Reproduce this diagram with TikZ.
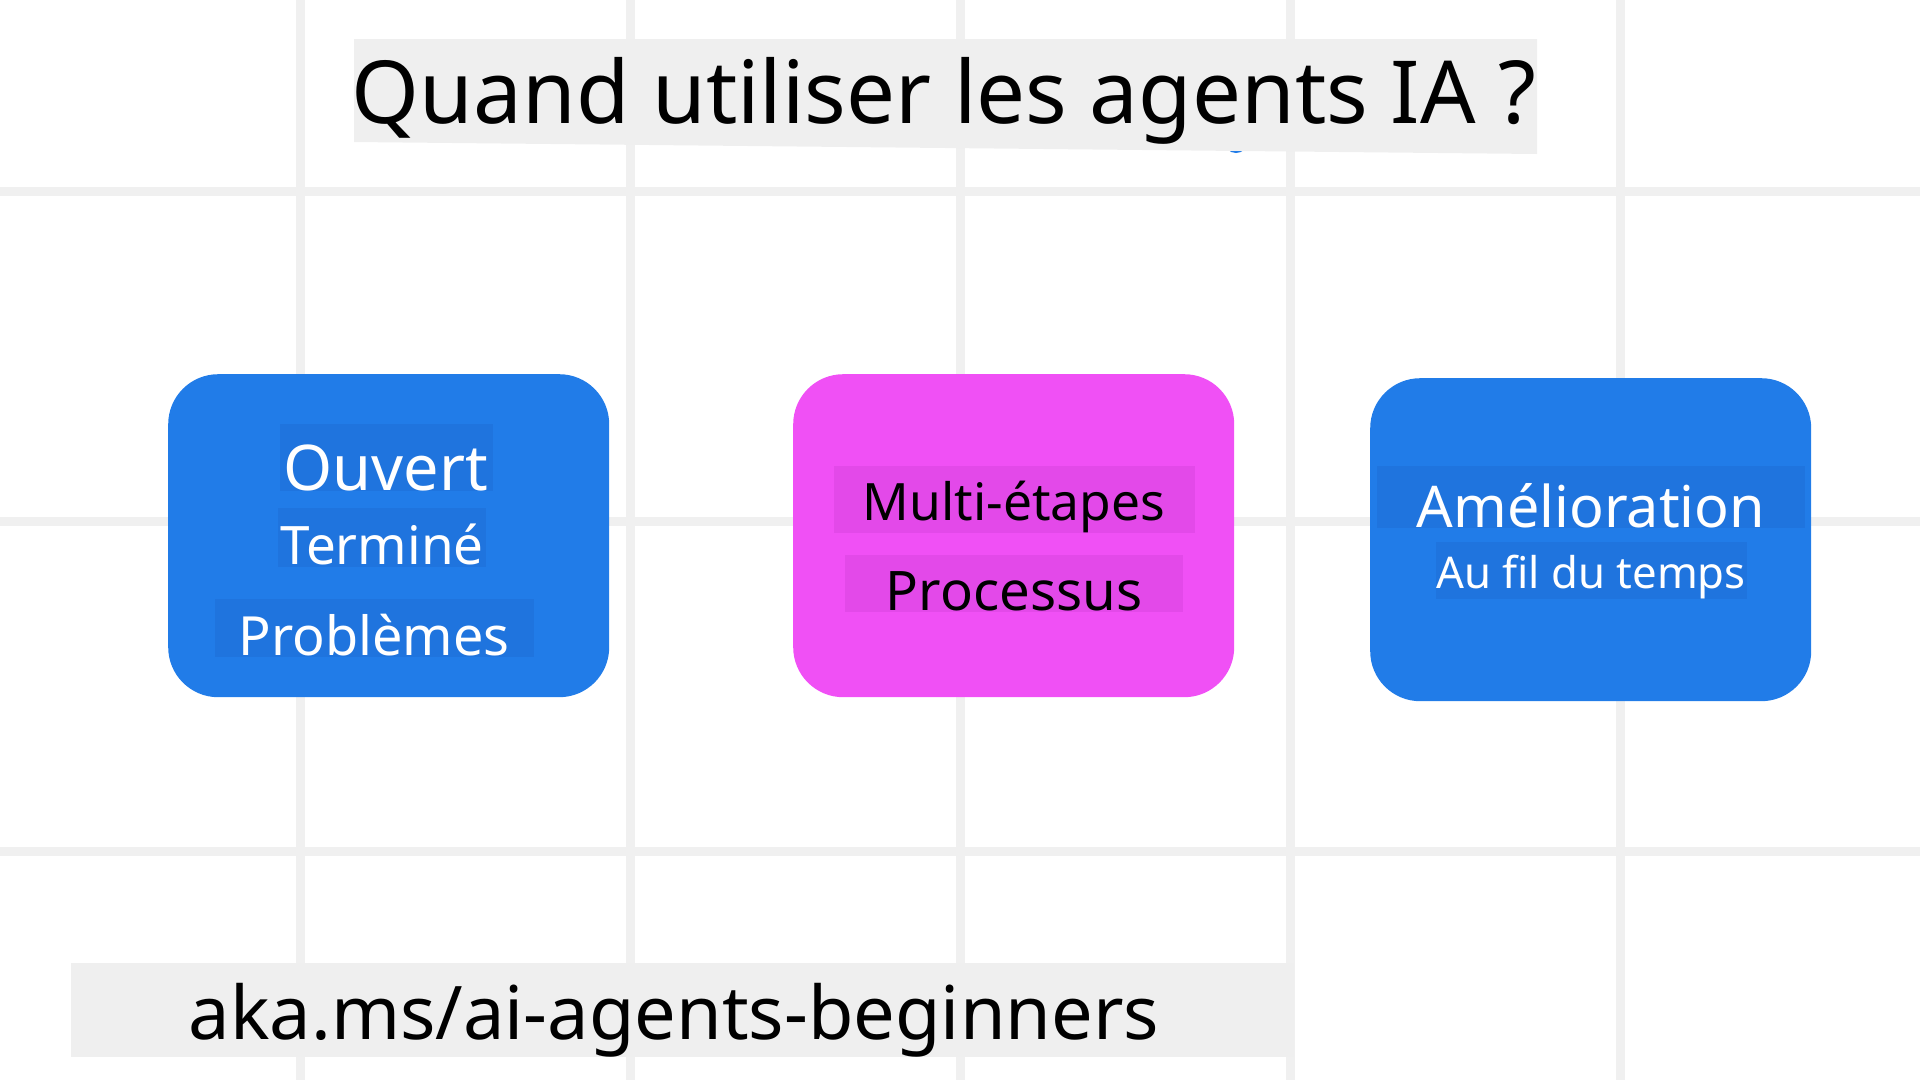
\documentclass[tikz,border=0pt]{standalone}
\usepackage{fontspec}
\setmainfont{Noto Sans}
\definecolor{gridgray}{HTML}{F0F0F0}
\definecolor{bannergray}{HTML}{EFEFEF}
\definecolor{cardblue}{HTML}{217CE8}
\definecolor{tagblue}{HTML}{1F74DE}
\definecolor{cardpink}{HTML}{F050F5}
\definecolor{tagpink}{HTML}{E349E9}
\newcommand{\fsz}[1]{\fontsize{#1}{#1}\selectfont}
\tikzset{
  gridline/.style={gridgray, line width=9pt},
  card/.style={rounded corners=50pt, minimum width=441pt, minimum height=323pt,
    inner sep=0pt, anchor=north west},
  tag/.style={anchor=base, inner xsep=0pt, inner ysep=0pt},
}

\begin{document}
\begin{tikzpicture}[x=1pt,y=-1pt]
  \useasboundingbox (0,0) rectangle (1920,1080);

  % Grid
  \foreach \gx in {300,630,960,1290,1620}
    \draw[gridline] (\gx,0) -- (\gx,1080);
  \foreach \gy in {191,521,851}
    \draw[gridline] (0,\gy) -- (1920,\gy);

  % Title
  \node[circle, fill=cardblue, minimum size=24pt, inner sep=0pt] (dot) at (1236,141) {};
  \fill[bannergray] (354,39) -- (1537,39) -- (1537,154) -- (354,142) -- cycle;
  \node[anchor=base, font=\fsz{87}] (title) at (944,123) {Quand utiliser les agents IA ?};

  % Cards
  \node[card, fill=cardblue] (open)    at (168,374)  {};
  \node[card, fill=cardpink] (multi)   at (793,374)  {};
  \node[card, fill=cardblue] (improve) at (1370,378) {};

  % Labels
  \node[tag, fill=tagblue, text=white, font=\fsz{63}, minimum width=213pt,
    text height=66pt, text depth=1pt] (ouvert) at (386,490) {Ouvert};
  \node[tag, fill=tagblue, text=white, font=\fsz{53}, minimum width=208pt,
    text height=56pt, text depth=3pt] (termine) at (382,564) {Terminé};
  \node[tag, fill=tagblue, text=white, font=\fsz{54}, minimum width=319pt,
    text height=56pt, text depth=2pt] (problemes) at (374,655) {Problèmes};

  \node[tag, fill=tagpink, font=\fsz{51.5}, minimum width=361pt,
    text height=54pt, text depth=13pt] (etapes) at (1014,520) {Multi-étapes};
  \node[tag, fill=tagpink, font=\fsz{54.5}, minimum width=338pt,
    text height=55pt, text depth=2pt] (processus) at (1014,610) {Processus};

  \node[tag, fill=tagblue, text=white, font=\fsz{57.5}, minimum width=428pt,
    text height=61pt, text depth=1pt] (amelioration) at (1591,527) {Amélioration};
  \node[tag, fill=tagblue, text=white, font=\fsz{43.7}, minimum width=311pt,
    text height=46pt, text depth=11pt] (temps) at (1591,588) {Au fil du temps};

  % Link
  \node[anchor=north west, fill=bannergray, minimum width=1223pt, minimum height=94pt,
    inner sep=0pt] (banner) at (71,963) {};
  \node[anchor=base, font=\fsz{74}] (link) at (674,1039) {aka.ms/ai-agents-beginners};

\end{tikzpicture}
\end{document}
